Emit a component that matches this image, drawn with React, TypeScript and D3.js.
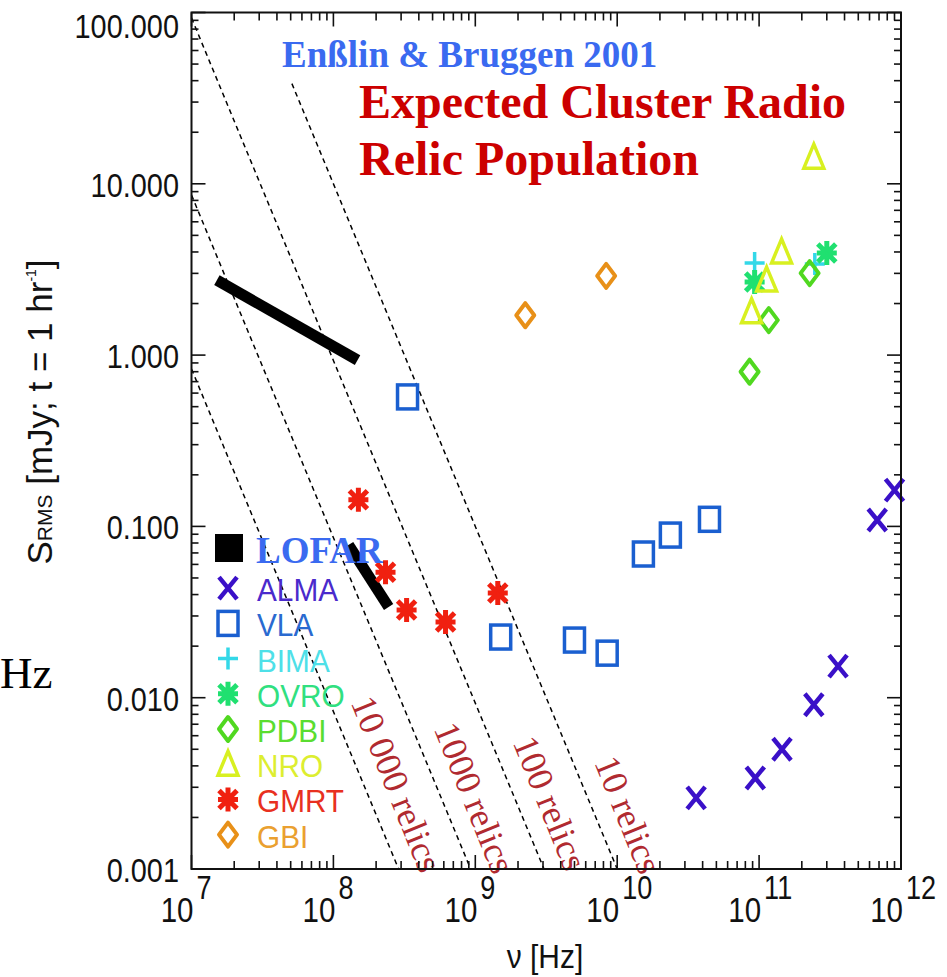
import React from "react";
import * as d3 from "d3";

const W = 947;
const H = 977;

// [frequency Hz, rms sensitivity mJy in 1 hr]
const ALMA = [[3.6e10, 0.0026], [9.4e10, 0.0034], [1.45e11, 0.005], [2.43e11, 0.0091], [3.6e11, 0.0153], [6.8e11, 0.109], [9.0e11, 0.163]];
const VLA = [[3.33e8, 0.57], [1.51e9, 0.0226], [5.0e9, 0.0217], [8.5e9, 0.0182], [1.53e10, 0.069], [2.37e10, 0.089], [4.47e10, 0.11]];
const BIMA = [[9.3e10, 3.45], [2.47e11, 3.4]];
const OVRO = [[9.3e10, 2.67], [3.0e11, 3.95]];
const PDBI = [[8.57e10, 0.8], [1.17e11, 1.6], [2.27e11, 3.01]];
const NRO = [[8.85e10, 1.79], [1.13e11, 2.74], [1.44e11, 4.0], [2.43e11, 14.3]];
const GMRT = [[1.5e8, 0.143], [2.33e8, 0.054], [3.28e8, 0.0325], [6.17e8, 0.0277], [1.44e9, 0.0408]];
const GBI = [[2.25e9, 1.71], [8.36e9, 2.9]];
// LOFAR bands drawn as thick segments
const LOFAR = [
  [[1.51e7, 2.74], [1.48e8, 0.935]],
  [[1.28e8, 0.078], [2.45e8, 0.0338]],
];

// relic population lines, S ~ nu^-2, value at 1e7 Hz
const relicNorm = [0.83, 8.6, 93, 1000];
const relicStartHz = [1e7, 1e7, 1e7, 5.1e7];
const relicLabels = ["10 000 relics", "1000 relics", "100 relics", "10 relics"];
const relicLabelS = [0.0094, 0.0066, 0.0055, 0.0042];

const yTickLabels = ["0.001", "0.010", "0.100", "1.000", "10.000", "100.000"];
const xExponents = ["7", "8", "9", "10", "11", "12"];

const legendNames = ["ALMA", "VLA", "BIMA", "OVRO", "PDBI", "NRO", "GMRT", "GBI"];

const series = { ALMA, VLA, BIMA, OVRO, PDBI, NRO, GMRT, GBI };
const styles = {
  ALMA: { kind: "x", color: "#3a10c8", text: "#4a2acc" },
  VLA: { kind: "square", color: "#1a5fd0", text: "#2a6ad0" },
  BIMA: { kind: "plus", color: "#33d8e8", text: "#4ee0e8" },
  OVRO: { kind: "star", color: "#20e070", text: "#30e080" },
  PDBI: { kind: "diamond", color: "#50d820", text: "#5add30" },
  NRO: { kind: "triangle", color: "#d8f020", text: "#ddee30" },
  GMRT: { kind: "star", color: "#f02010", text: "#e83020" },
  GBI: { kind: "diamond", color: "#e89018", text: "#eaa030" },
};

const sans = "'Liberation Sans', Arial, Helvetica, sans-serif";
const serif = "'Liberation Serif', 'Times New Roman', serif";

function Marker({ kind, x, y, color }) {
  if (kind === "x")
    return <path d={`M${x - 9},${y - 11}L${x + 9},${y + 11}M${x + 9},${y - 11}L${x - 9},${y + 11}`} stroke={color} strokeWidth={4.5} fill="none" />;
  if (kind === "square")
    return <rect x={x - 10} y={y - 12} width={20} height={24} stroke={color} strokeWidth={3.5} fill="none" />;
  if (kind === "plus")
    return <path d={`M${x},${y - 11}V${y + 11}M${x - 10},${y}H${x + 10}`} stroke={color} strokeWidth={3.5} fill="none" />;
  if (kind === "star")
    return (
      <g stroke={color} strokeWidth={5} fill="none">
        <path d={`M${x},${y - 12}V${y + 12}M${x - 10},${y}H${x + 10}M${x - 9},${y - 9}L${x + 9},${y + 9}M${x + 9},${y - 9}L${x - 9},${y + 9}`} />
        <circle cx={x} cy={y} r={4} fill={color} />
      </g>
    );
  if (kind === "diamond")
    return <path d={`M${x},${y - 12}L${x + 9},${y}L${x},${y + 12}L${x - 9},${y}Z`} stroke={color} strokeWidth={4} fill="none" strokeLinejoin="round" />;
  return <path d={`M${x},${y - 13}L${x + 10},${y + 11}L${x - 10},${y + 11}Z`} stroke={color} strokeWidth={3.5} fill="none" />;
}

export default function App() {
  const left = 191.5, right = 901, top = 12.5, bottom = 869;
  const x = d3.scaleLog().domain([1e7, 1e12]).range([left, right]);
  const y = d3.scaleLog().domain([1e-3, 1e2]).range([bottom, top]);

  const isMajor = (v) => Math.abs(Math.log10(v) - Math.round(Math.log10(v))) < 1e-9;
  const xTicks = x.ticks();
  const yTicks = y.ticks();
  const line = d3.line().x((d) => x(d[0])).y((d) => y(d[1]));

  const relicLines = relicNorm.map((k, i) => {
    const f0 = relicStartHz[i];
    let s0 = k * Math.pow(f0 / 1e7, -2);
    let fs = f0;
    if (s0 > 100) {
      s0 = 100;
      fs = 1e7 * Math.sqrt(k / 100);
    }
    const fEnd = 1e7 * Math.sqrt(k / 1e-3);
    return [[fs, s0], [fEnd, 1e-3]];
  });

  const legendY0 = 548;
  const legendStep = 35.2;

  return (
    <svg width={W} height={H} style={{ position: "absolute", left: 0, top: 0, background: "#fff" }}>
      {/* relic lines */}
      {relicLines.map((pts, i) => (
        <path key={i} d={line(pts)} stroke="#000" strokeWidth={1.5} strokeDasharray="5,4" fill="none" />
      ))}
      {relicLabels.map((t, i) => {
        const s = relicLabelS[i];
        const f = 1e7 * Math.sqrt(relicNorm[i] / s);
        return (
          <text key={t} transform={`translate(${x(f) + 21},${y(s)}) rotate(68)`} fontFamily={serif} fontSize={36} fill="#b02a30">
            {t}
          </text>
        );
      })}

      {/* LOFAR */}
      {LOFAR.map((seg, i) => (
        <path key={i} d={line(seg)} stroke="#000" strokeWidth={11} fill="none" />
      ))}

      {/* instruments */}
      {legendNames.map((name) =>
        series[name].map((d, j) => (
          <Marker key={name + j} kind={styles[name].kind} x={x(d[0])} y={y(d[1])} color={styles[name].color} />
        ))
      )}

      {/* legend */}
      <rect x={215} y={legendY0 - 14} width={28} height={28} fill="#000" />
      <text x={256} y={legendY0 + 15} fontFamily={serif} fontWeight="bold" fontSize={37} fill="#3a6af0">LOFAR</text>
      {legendNames.map((name, i) => {
        const ly = legendY0 + legendStep * (i + 1) + 6;
        return (
          <g key={name}>
            <Marker kind={styles[name].kind} x={228} y={ly - 1} color={styles[name].color} />
            <text transform={`translate(257,${ly + 12}) scale(0.93,1)`} fontFamily={sans} fontSize={32} fill={styles[name].text}>
              {name}
            </text>
          </g>
        );
      })}

      {/* frame and ticks */}
      <rect x={left} y={top} width={right - left} height={bottom - top} fill="none" stroke="#111" strokeWidth={2} />
      {xTicks.map((t, i) => {
        const len = isMajor(t) ? 14 : 8;
        const px = x(t);
        return (
          <g key={"xt" + i} stroke="#111" strokeWidth={1.6}>
            <line x1={px} x2={px} y1={bottom} y2={bottom - len} />
            <line x1={px} x2={px} y1={top} y2={top + len} />
          </g>
        );
      })}
      {yTicks.map((t, i) => {
        const len = isMajor(t) ? 14 : 7;
        const py = y(t);
        return (
          <g key={"yt" + i} stroke="#111" strokeWidth={1.6}>
            <line x1={left} x2={left + len} y1={py} y2={py} />
            <line x1={right} x2={right - len} y1={py} y2={py} />
          </g>
        );
      })}

      {/* y tick labels */}
      {yTickLabels.map((lab, i) => {
        const py = y(Math.pow(10, i - 3));
        return (
          <text key={lab} transform={`translate(179,${Math.max(py + 13, 38)}) scale(0.85,1)`} textAnchor="end" fontFamily={sans} fontSize={34} fill="#111">
            {lab}
          </text>
        );
      })}
      {/* x tick labels */}
      {xExponents.map((e, i) => {
        const px = x(Math.pow(10, i + 7));
        return (
          <g key={e} fill="#111" fontFamily={sans}>
            <text transform={`translate(${px + 2},922) scale(0.82,1)`} textAnchor="end" fontSize={36}>10</text>
            <text transform={`translate(${px + 5},899) scale(0.82,1)`} fontSize={33}>{e}</text>
          </g>
        );
      })}

      {/* axis titles */}
      <text transform={`translate(545,968) scale(0.88,1)`} textAnchor="middle" fontFamily={sans} fontSize={34} fill="#111">
        ν [Hz]
      </text>
      <text transform="translate(52,412) rotate(-90)" textAnchor="middle" fontFamily={sans} fontSize={35} fill="#111">
        S<tspan fontSize={21}>RMS</tspan> [mJy; t = 1 hr<tspan fontSize={14} dy={-16}>-1</tspan><tspan dy={16}>]</tspan>
      </text>
      <text x={0} y={688} fontFamily={serif} fontSize={45} fill="#000">Hz</text>

      {/* titles */}
      <text x={282} y={67} fontFamily={serif} fontWeight="bold" fontSize={37} fill="#3a6af0">Enßlin &amp; Bruggen 2001</text>
      <text x={359} y={118} fontFamily={serif} fontWeight="bold" fontSize={48} fill="#cc0000">Expected Cluster Radio</text>
      <text x={359} y={175} fontFamily={serif} fontWeight="bold" fontSize={48} fill="#cc0000">Relic Population</text>
    </svg>
  );
}
